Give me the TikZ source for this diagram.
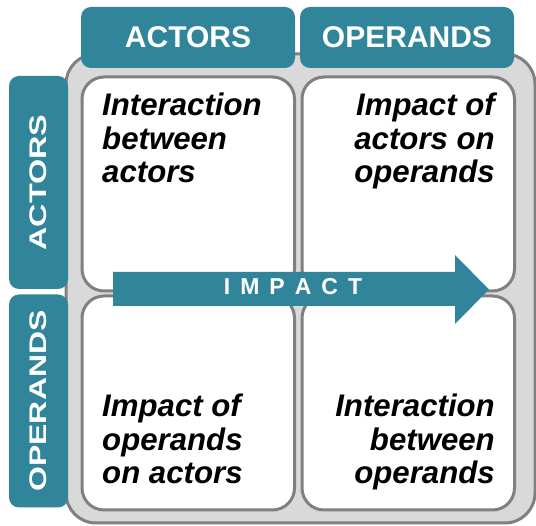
\documentclass[tikz,border=0pt]{standalone}
\usepackage{fontspec}
\setmainfont{Liberation Sans}
\usepackage{graphicx}
\definecolor{tealc}{RGB}{49,133,155}
\definecolor{grayfill}{RGB}{217,217,217}
\definecolor{grayline}{RGB}{128,128,128}
\tikzset{
  outerbox/.style={draw=grayline, line width=3pt, fill=grayfill, rounded corners=30pt, inner sep=0pt, anchor=north west},
  cellbox/.style={draw=grayline, line width=3pt, fill=white, rounded corners=22pt, inner sep=0pt, anchor=north west, minimum width=212.5pt, minimum height=214pt},
  tabbox/.style={fill=tealc, rounded corners=10pt, inner sep=0pt, text=white, font=\bfseries\fontsize{30}{34}\selectfont},
  sidetab/.style={tabbox, rotate=90, font=\bfseries\fontsize{24}{28}\selectfont, minimum width=213pt, minimum height=59pt},
  toptab/.style={tabbox, minimum width=214pt, minimum height=61pt},
  celltext/.style={inner sep=0pt, font=\bfseries\itshape\fontsize{31.2}{33.5}\selectfont, text=black}
}
\begin{document}
\begin{tikzpicture}[x=1pt,y=-1pt]
\useasboundingbox (0,0) rectangle (536,526);
% outer gray frame
\node[outerbox, minimum width=469pt, minimum height=469pt] (outer) at (64.5,52.5) {};
% cells
\node[cellbox] (c11) at (80.5,75.5) {};
\node[cellbox] (c12) at (300.5,75.5) {};
\node[cellbox] (c21) at (80.5,294.5) {};
\node[cellbox] (c22) at (300.5,294.5) {};
% top tabs
\node[toptab] (tA) at (188,37.5) {ACTORS};
\node[toptab] (tO) at (407,37.5) {OPERANDS};
% side tabs
\node[sidetab] (sA) at (38.5,182.5) {\scalebox{1.35}[1]{ACTORS}};
\node[sidetab] (sO) at (38.5,401) {\scalebox{1.33}[1]{OPERANDS}};
% arrow
\fill[tealc] (113,272) -- (455,272) -- (455,255) -- (489,289.5) -- (455,324) -- (455,306) -- (113,306) -- cycle;
\node[inner sep=0pt, text=white, font=\bfseries\fontsize{23}{26}\selectfont] (imp) at (293,286.5)
  {I\kern10pt M\kern10pt P\kern10pt A\kern10pt C\kern10pt T};
% cell texts (base anchor = baseline of last line)
\node[celltext, anchor=base west, align=left] (t11) at (102,183) {Interaction\\between\\actors};
\node[celltext, anchor=base east, align=right] (t12) at (495,183) {Impact of\\actors on\\operands};
\node[celltext, anchor=base west, align=left] (t21) at (102,484) {Impact of\\operands\\on actors};
\node[celltext, anchor=base east, align=right] (t22) at (495,484) {Interaction\\between\\operands};
\end{tikzpicture}
\end{document}
